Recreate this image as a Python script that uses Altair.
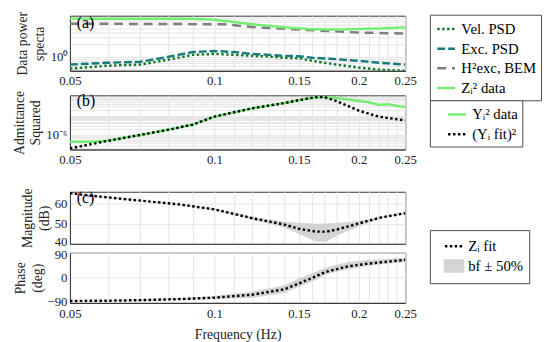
import altair as alt
import pandas as pd

FONT = "Liberation Serif"

# ---------------- Panel (a): data power spectra ----------------
f_psd = [0.05, 0.06, 0.07, 0.08, 0.09, 0.10, 0.11, 0.12, 0.13, 0.14, 0.15, 0.16, 0.18, 0.20, 0.22, 0.25]
vel_psd = [0.52, 0.61, 0.65, 0.85, 1.12, 1.18, 1.12, 1.06, 1.02, 0.95, 0.93, 0.80, 0.65, 0.55, 0.49, 0.46]
exc_psd = [0.65, 0.72, 0.76, 1.00, 1.31, 1.39, 1.31, 1.18, 1.12, 1.06, 1.04, 0.95, 0.88, 0.80, 0.72, 0.65]
f_bem = [0.05, 0.105, 0.12, 0.15, 0.20, 0.25]
h_bem = [6.4, 6.2, 5.3, 4.6, 3.9, 3.7]
f_z = [0.05, 0.09, 0.10, 0.11, 0.12, 0.14, 0.16, 0.18, 0.22, 0.25]
z_data = [8.5, 8.4, 8.0, 7.0, 6.2, 5.2, 4.7, 4.6, 4.9, 5.2]
series_a = ["Vel. PSD", "Exc. PSD", "H²exc, BEM", "Zᵢ² data"]
colors_a = ["#137a28", "#1b7c80", "#7f7f7f", "#72ef72"]
dashes_a = [[2.5, 2.5], [8, 3], [9, 6], [1, 0]]

# ---------------- Panel (b): admittance squared ----------------
f_yfit = [0.05, 0.06, 0.07, 0.08, 0.09, 0.10, 0.11, 0.12, 0.14, 0.15, 0.16, 0.165, 0.17, 0.18, 0.20, 0.22, 0.25]
y_fit2 = [2.0e-7, 5.0e-7, 1.0e-6, 1.85e-6, 3.4e-6, 8.9e-6, 1.5e-5, 2.4e-5, 4.5e-5, 6.3e-5, 8.4e-5, 9.4e-5, 8.9e-5, 5.6e-5, 1.8e-5, 8.9e-6, 5.6e-6]
f_ydata = [0.05, 0.055, 0.06, 0.07, 0.08, 0.09, 0.10, 0.12, 0.14, 0.16, 0.17, 0.18, 0.19, 0.20, 0.21, 0.22, 0.23, 0.24, 0.25]
y_data2 = [4.5e-7, 4.4e-7, 5.0e-7, 1.0e-6, 1.85e-6, 3.4e-6, 8.8e-6, 2.4e-5, 4.5e-5, 8.5e-5, 9.0e-5, 8.0e-5, 6.8e-5, 5.8e-5, 4.9e-5, 3.6e-5, 3.9e-5, 3.2e-5, 2.8e-5]
series_b = ["Yᵢ² data", "(Yᵢ fit)²"]
colors_b = ["#72ef72", "#000000"]
dashes_b = [[1, 0], [2.5, 2.5]]

# ---------------- Panel (c): impedance fit (magnitude / phase) ----------------
f_zfit = [0.05, 0.06, 0.07, 0.085, 0.10, 0.12, 0.14, 0.15, 0.163, 0.171, 0.18, 0.19, 0.207, 0.223, 0.25]
mag_fit = [65.2, 63.2, 61.6, 59.6, 57.2, 52.8, 49.6, 47.5, 46.1, 46.1, 47.2, 48.7, 51.2, 53.2, 55.3]
mag_lo = [64.9, 62.9, 61.3, 59.3, 56.8, 52.0, 48.0, 45.0, 41.0, 41.0, 44.0, 46.5, 50.0, 52.8, 55.0]
mag_hi = [65.5, 63.5, 61.9, 59.9, 57.6, 53.5, 51.0, 50.5, 50.0, 50.2, 50.5, 50.8, 52.0, 53.6, 55.6]
phase_fit = [-87, -86, -84, -80, -75, -64, -44, -23, 4, 20, 30, 40, 49, 55, 64]
phase_lo = [-89, -88, -87, -84, -80, -75, -58, -35, -10, 12, 20, 28, 40, 48, 56]
phase_hi = [-85, -84, -81, -76, -69, -52, -30, -5, 20, 35, 46, 56, 62, 66, 72]
series_c = ["Zᵢ fit", "bf ± 50%"]
stroke_c = ["#000000", "#d4d4d4"]
fill_c = ["transparent", "#d4d4d4"]
shape_c = ["stroke", "M-1,-0.6H1V0.6H-1Z"]
dashes_c = [[2.5, 2.5], [1, 0]]

x_ticks = [0.05, 0.06, 0.07, 0.08, 0.09, 0.10, 0.11, 0.12, 0.13, 0.14, 0.15, 0.16, 0.17,
           0.18, 0.19, 0.20, 0.21, 0.22, 0.23, 0.24, 0.25]
ya_ticks = [0.5, 0.6, 0.7, 0.8, 0.9, 1, 2, 3, 4, 5, 6, 7, 8, 9]
yb_ticks = [m * 10.0 ** e for e in (-7, -6, -5) for m in range(1, 10)]

# ---------------- tables ----------------
df_a = pd.concat([
    pd.DataFrame({"f": f_psd, "v": vel_psd, "s": series_a[0]}),
    pd.DataFrame({"f": f_psd, "v": exc_psd, "s": series_a[1]}),
    pd.DataFrame({"f": f_bem, "v": h_bem, "s": series_a[2]}),
    pd.DataFrame({"f": f_z, "v": z_data, "s": series_a[3]}),
])
df_b = pd.concat([
    pd.DataFrame({"f": f_ydata, "v": y_data2, "s": series_b[0]}),
    pd.DataFrame({"f": f_yfit, "v": y_fit2, "s": series_b[1]}),
])
df_c = pd.DataFrame({"f": f_zfit, "mag": mag_fit, "lo": mag_lo, "hi": mag_hi,
                     "ph": phase_fit, "plo": phase_lo, "phi": phase_hi})
df_leg = pd.DataFrame({"f": pd.Series([], dtype=float), "mag": pd.Series([], dtype=float),
                       "s": pd.Series([], dtype=str)})

W = 341
xscale = alt.Scale(type="log", domain=[0.05, 0.25], nice=False)
xlab = "abs(datum.value*20 - round(datum.value*20)) < 0.001 ? format(datum.value, '.2~f') : ''"


def xaxis(labels=True, title=None, label_pad=4):
    if labels:
        return alt.Axis(values=x_ticks, labelExpr=xlab, title=title, grid=True, ticks=False,
                        labelOverlap=False, labelFlush=False, labelPadding=label_pad,
                        titlePadding=7)
    return alt.Axis(values=x_ticks, labels=False, title=None, grid=True, ticks=False)


def legend(x, y, sym_offset=0, label_expr="datum.label"):
    return alt.Legend(orient="none", legendX=x, legendY=y, title=None, strokeColor="#4d4d4d",
                      fillColor="white", padding=4, labelFont=FONT, labelFontSize=15,
                      labelColor="black", symbolType="stroke", symbolSize=324,
                      symbolStrokeWidth=2.5, rowPadding=1, labelOffset=5, labelLimit=300,
                      symbolOffset=sym_offset, labelExpr=label_expr)


def tag(txt, y):
    return alt.Chart(pd.DataFrame({"t": [txt]})).mark_text(
        font=FONT, fontSize=16, align="left", baseline="top", color="black"
    ).encode(text="t:N", x=alt.value(7), y=alt.value(y))


PAD = "datum.label + '\u00a0\u00a0\u00a0\u00a0'"

LA = legend(366, -1, sym_offset=2)
pa_lines = alt.Chart(df_a).mark_line(strokeWidth=2.5, clip=True).encode(
    x=alt.X("f:Q", scale=xscale, axis=xaxis()),
    y=alt.Y("v:Q", scale=alt.Scale(type="log", domain=[0.46, 10], nice=False),
            axis=alt.Axis(values=ya_ticks, labelExpr="abs(datum.value-1)<1e-9 ? '10⁰' : ''",
                          title=["Data power", "specta"], grid=True, ticks=False,
                          labelOverlap=False, labelFlush=False)),
    color=alt.Color("s:N", scale=alt.Scale(domain=series_a, range=colors_a), legend=LA),
    strokeDash=alt.StrokeDash("s:N", scale=alt.Scale(domain=series_a, range=dashes_a), legend=LA),
    detail="s:N",
)
panel_a = alt.layer(pa_lines, tag("(a)", 0)).properties(width=W, height=56)

LB = legend(366, 5, sym_offset=13, label_expr=PAD)
pb_lines = alt.Chart(df_b).mark_line(strokeWidth=2.5, clip=True).encode(
    x=alt.X("f:Q", scale=xscale, axis=xaxis()),
    y=alt.Y("v:Q", scale=alt.Scale(type="log", domain=[1.78e-7, 1.12e-4], nice=False),
            axis=alt.Axis(values=yb_ticks,
                          labelExpr="abs(log(datum.value)/LN10 + 6) < 0.01 ? '10⁻⁶' : ''",
                          title=["Admittance", "Squared"], grid=True, ticks=False,
                          labelOverlap=False, labelFlush=False)),
    color=alt.Color("s:N", scale=alt.Scale(domain=series_b, range=colors_b), legend=LB),
    strokeDash=alt.StrokeDash("s:N", scale=alt.Scale(domain=series_b, range=dashes_b), legend=LB),
    detail="s:N",
)
panel_b = alt.layer(pb_lines, tag("(b)", -2)).properties(width=W, height=55)

LC = alt.Legend(orient="none", legendX=366, legendY=39, title=None, strokeColor="#4d4d4d",
                fillColor="white", padding=6, labelFont=FONT, labelFontSize=15,
                labelColor="black", symbolSize=340, symbolStrokeWidth=2.5,
                rowPadding=0, labelOffset=4, labelLimit=300, symbolOffset=8,
                labelExpr="datum.label + '\u00a0\u00a0\u00a0\u00a0\u00a0'")
mag_y = alt.Scale(domain=[40, 66], nice=False, zero=False)
mag_axis = alt.Axis(values=[40, 50, 60], title=["Magnitude", "(dB)"], grid=True, ticks=False,
                    labelOverlap=False, labelFlush=False,
                    labelOffset={"condition": {"test": "datum.value == 40", "value": -2}, "value": 0})
pc_band = alt.Chart(df_c).mark_area(color="#d4d4d4", clip=True).encode(
    x=alt.X("f:Q", scale=xscale, axis=xaxis(labels=False)),
    y=alt.Y("lo:Q", scale=mag_y, axis=mag_axis),
    y2="hi:Q",
)
pc_line = alt.Chart(df_c).mark_line(clip=True, color="black", strokeWidth=2.5,
                                    strokeDash=[2.5, 2.5]).encode(
    x=alt.X("f:Q", scale=xscale, axis=xaxis(labels=False)),
    y=alt.Y("mag:Q", scale=mag_y, axis=mag_axis),
)
pc_leg = alt.Chart(df_leg).mark_point(strokeWidth=2.5, opacity=1).encode(
    x=alt.X("f:Q", scale=xscale, axis=xaxis(labels=False)),
    y=alt.Y("mag:Q", scale=mag_y, axis=mag_axis),
    stroke=alt.Stroke("s:N", scale=alt.Scale(domain=series_c, range=stroke_c), legend=LC),
    fill=alt.Fill("s:N", scale=alt.Scale(domain=series_c, range=fill_c), legend=LC),
    shape=alt.Shape("s:N", scale=alt.Scale(domain=series_c, range=shape_c), legend=LC),
    strokeDash=alt.StrokeDash("s:N", scale=alt.Scale(domain=series_c, range=dashes_c), legend=LC),
)
panel_c = alt.layer(pc_band, pc_line, pc_leg, tag("(c)", -2)).properties(width=W, height=53)

ph_y = alt.Scale(domain=[-94, 90], nice=False, zero=False)
ph_axis = alt.Axis(values=[-90, 0, 90], title=["Phase", "(deg)"], grid=True, ticks=False,
                   labelOverlap=False, labelFlush=False,
                   labelOffset={"condition": {"test": "datum.value == 90", "value": 2}, "value": 0},
                   labelExpr="datum.value < 0 ? '−' + abs(datum.value) : '' + datum.value")
pd_band = alt.Chart(df_c).mark_area(color="#d4d4d4", clip=True).encode(
    x=alt.X("f:Q", scale=xscale, axis=xaxis(title="Frequency (Hz)", label_pad=5)),
    y=alt.Y("plo:Q", scale=ph_y, axis=ph_axis),
    y2="phi:Q",
)
pd_line = alt.Chart(df_c).mark_line(clip=True, color="black", strokeWidth=2.5,
                                    strokeDash=[2.5, 2.5]).encode(
    x=alt.X("f:Q", scale=xscale, axis=xaxis(title="Frequency (Hz)", label_pad=5)),
    y=alt.Y("ph:Q", scale=ph_y, axis=ph_axis),
)
panel_d = alt.layer(pd_band, pd_line).properties(width=W, height=51)


def spacer(h):
    return alt.Chart(pd.DataFrame({"f": [0.1]})).mark_point(opacity=0).encode(
        x=alt.X("f:Q", scale=xscale, axis=None)
    ).properties(width=W, height=h, view=alt.ViewBackground(stroke="transparent"))


GAP = 9
ind = dict(color="independent", strokeDash="independent", stroke="independent",
           fill="independent", shape="independent")
chart = alt.vconcat(
    panel_a, spacer(25 - 2 * GAP), panel_b, spacer(43 - 2 * GAP), panel_c, panel_d,
    spacing=GAP, bounds="flush",
).resolve_scale(**ind).properties(
    padding={"left": 3, "top": 0, "right": 0, "bottom": 0}
).configure_view(
    stroke="#333333", strokeWidth=1
).configure_axis(
    domainColor="#333333", gridColor="#e4e4e4", gridWidth=1,
    labelFont=FONT, labelFontSize=13, labelColor="#222222", labelPadding=3,
    titleFont=FONT, titleFontSize=14, titleFontWeight="normal", titleColor="#222222",
    titlePadding=3, titleLineHeight=17,
)

chart.save("out.html", embed_options={"renderer": "svg", "actions": False})
